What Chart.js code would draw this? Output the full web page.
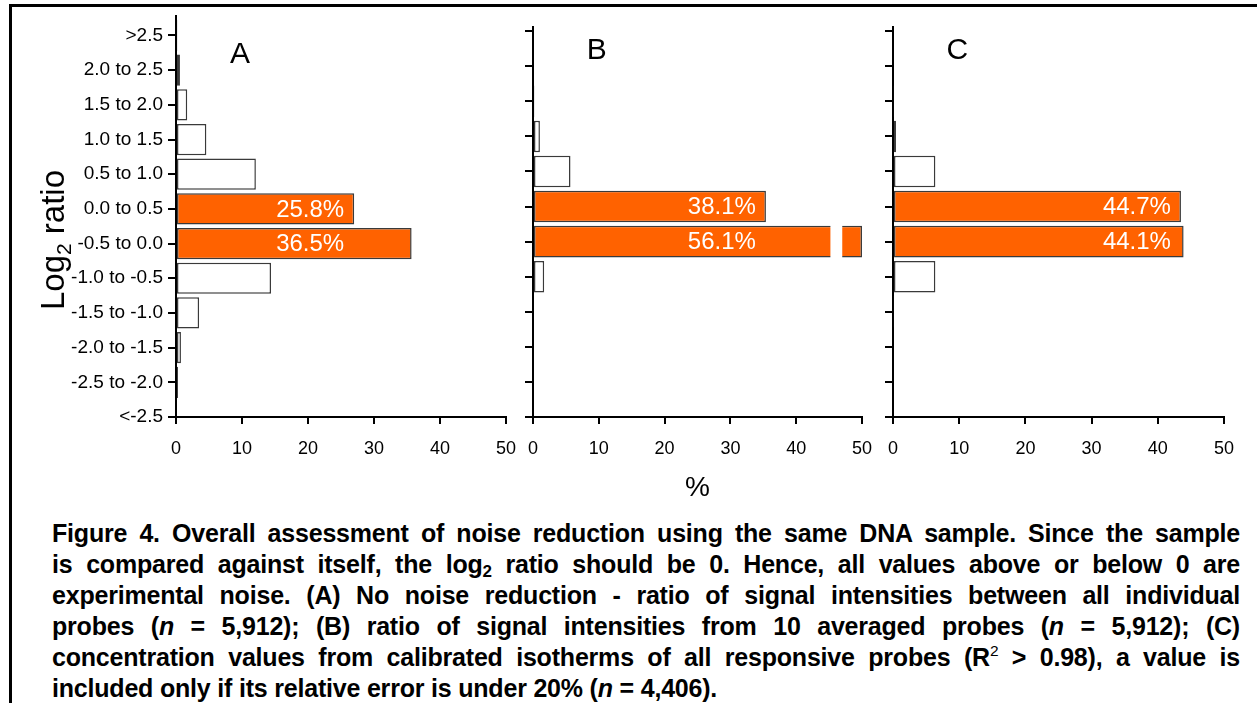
<!DOCTYPE html>
<html>
<head>
<meta charset="utf-8">
<script src="https://cdn.jsdelivr.net/npm/chart.js@4.4.0/dist/chart.umd.min.js"></script>
<style>
  body { margin:0; background:#fff; width:1257px; height:703px; overflow:hidden; position:relative;
         font-family:'Liberation Sans', Arial, sans-serif; }
  #frame { position:absolute; left:9px; top:4px; right:-10px; bottom:-10px;
           border-top:3px solid #000; border-left:3px solid #000; }
  canvas { position:absolute; top:0; }
  #caption { position:absolute; left:52px; top:518px; width:1188px; font-weight:bold;
             font-size:25px; letter-spacing:-0.2px; line-height:31px; color:#000; }
  #caption div { text-align:justify; text-align-last:justify; white-space:nowrap; }
  #caption div.last { text-align-last:left; }
  #caption sub { font-size:0.68em; line-height:0; vertical-align:-0.22em; }
  #caption sup { font-size:0.62em; line-height:0; vertical-align:0.65em; font-weight:normal; }
</style>
</head>
<body>
<div id="frame"></div>
<canvas id="chartA" width="530" height="505" style="left:0px"></canvas>
<canvas id="chartB" width="373" height="505" style="left:513px"></canvas>
<canvas id="chartC" width="375" height="505" style="left:873px"></canvas>
<div id="caption">
  <div>Figure 4. Overall assessment of noise reduction using the same DNA sample. Since the sample</div>
  <div>is compared against itself, the log<sub>2</sub> ratio should be 0. Hence, all values above or below 0 are</div>
  <div>experimental noise. (A) No noise reduction - ratio of signal intensities between all individual</div>
  <div>probes (<i>n</i> = 5,912); (B) ratio of signal intensities from 10 averaged probes (<i>n</i> = 5,912); (C)</div>
  <div>concentration values from calibrated isotherms of all responsive probes (R<sup>2</sup> &gt; 0.98), a value is</div>
  <div class="last">included only if its relative error is under 20% (<i>n</i> = 4,406).</div>
</div>
<script>
// log2 ratio bins, top to bottom
const categories = ['>2.5', '2.0 to 2.5', '1.5 to 2.0', '1.0 to 1.5', '0.5 to 1.0', '0.0 to 0.5',
  '-0.5 to 0.0', '-1.0 to -0.5', '-1.5 to -1.0', '-2.0 to -1.5', '-2.5 to -2.0', '<-2.5'];
const xTickValues = [0, 10, 20, 30, 40, 50];

// % of probes per bin (bar lengths as drawn)
const panelA = [0.2, 0.6, 1.7, 4.6, 12.1, 27.0, 35.7, 14.4, 3.5, 0.75, 0.3, 0];
const panelB = [0, 0, 0.2, 1.05, 5.7, 35.4, 50, 1.7, 0, 0, 0, 0];
const panelC = [0, 0, 0.1, 0.45, 6.4, 43.5, 43.9, 6.4, 0.1, 0, 0, 0];

// labels printed on the central bins
const pctA = [null, null, null, null, null, '25.8%', '36.5%', null, null, null, null, null];
const pctB = [null, null, null, null, null, '38.1%', '56.1%', null, null, null, null, null];
const pctC = [null, null, null, null, null, '44.7%', '44.1%', null, null, null, null, null];

const FONT = "'Liberation Sans', Arial, sans-serif";
const orange = '#ff6200';

Chart.defaults.font.family = FONT;
Chart.defaults.color = '#000';

const extras = {
  id: 'extras',
  afterDraw(chart, args, o) {
    const ctx = chart.ctx, xs = chart.scales.x, ys = chart.scales.y;
    const meta = chart.getDatasetMeta(0);
    ctx.save();
    // tick marks under the x axis
    ctx.strokeStyle = '#000';
    ctx.lineWidth = 2;
    xs.ticks.forEach(t => {
      const px = Math.round(xs.getPixelForValue(t.value));
      ctx.beginPath();
      ctx.moveTo(px, xs.top);
      ctx.lineTo(px, xs.top + 7);
      ctx.stroke();
    });
    if (o.breakAt) {
      const bar = meta.data[o.breakAt.index];
      const x1 = xs.getPixelForValue(o.breakAt.from), x2 = xs.getPixelForValue(o.breakAt.to);
      ctx.fillStyle = '#fff';
      ctx.fillRect(x1, bar.y - bar.height / 2 - 2, x2 - x1, bar.height + 4);
    }
    const idx = o.pcts.map((p, i) => p ? i : -1).filter(i => i >= 0);
    const minVal = Math.min(...idx.map(i => o.values[i]));
    const xr = xs.getPixelForValue(minVal) - 10;
    ctx.font = '24px ' + FONT;
    ctx.fillStyle = '#fff';
    ctx.textAlign = 'right';
    ctx.textBaseline = 'middle';
    idx.forEach(i => ctx.fillText(o.pcts[i], xr, ys.getPixelForValue(i) + 1));

    ctx.font = '30px ' + FONT;
    ctx.fillStyle = '#000';
    ctx.textAlign = 'center';
    ctx.fillText(o.letter, xs.getPixelForValue(9.7), ys.getPixelForValue(0.55));

    if (o.yTitle) {
      ctx.translate(o.yTitle.x, o.yTitle.y);
      ctx.rotate(-Math.PI / 2);
      const big = '33px ' + FONT, small = '21px ' + FONT;
      ctx.font = big;
      const w1 = ctx.measureText('Log').width, w3 = ctx.measureText(' ratio').width;
      ctx.font = small;
      const w2 = ctx.measureText('2').width;
      let x = -(w1 + w2 + w3) / 2;
      ctx.textAlign = 'left';
      ctx.textBaseline = 'alphabetic';
      ctx.font = big; ctx.fillText('Log', x, 0); x += w1;
      ctx.font = small; ctx.fillText('2', x, 7); x += w2;
      ctx.font = big; ctx.fillText(' ratio', x, 0);
    }
    ctx.restore();
  }
};

function makeChart(id, values, pcts, letter, opt) {
  const ctx = document.getElementById(id).getContext('2d');
  return new Chart(ctx, {
    type: 'bar',
    data: {
      datasets: [{
        data: values.map((v, i) => ({ x: v, y: i })),
        backgroundColor: values.map((v, i) => pcts[i] ? orange : '#fff'),
        borderColor: '#3a3a3a',
        borderWidth: 1.5,
        borderSkipped: false,
        barPercentage: 0.9,
        categoryPercentage: 1
      }]
    },
    options: {
      indexAxis: 'y',
      responsive: false,
      animation: false,
      devicePixelRatio: 1,
      layout: { padding: { top: opt.top, right: 21, left: 0, bottom: 0 } },
      plugins: {
        legend: { display: false },
        tooltip: { enabled: false },
        extras: { values: values, pcts: pcts, letter: letter, yTitle: opt.yTitle, breakAt: opt.breakAt }
      },
      scales: {
        x: {
          type: 'linear', min: 0, max: 50, offset: false,
          afterBuildTicks: s => { s.ticks = xTickValues.map(v => ({ value: v })); },
          afterFit: s => { s.height = 88; },
          grid: { display: true, offset: false, drawOnChartArea: false, drawTicks: true, tickLength: 7,
                  color: '#000', lineWidth: 2 },
          border: { display: true, color: '#000', width: 2 },
          ticks: { font: { size: 18 }, padding: 14, maxRotation: 0, color: '#000' },
          title: { display: !!opt.pctTitle, text: '%', font: { size: 28 }, color: '#000', padding: 0 }
        },
        y: {
          type: 'linear', reverse: true, offset: false, min: opt.yMin, max: categories.length - 1,
          afterBuildTicks: s => { s.ticks = categories.map((c, i) => ({ value: i })); },
          afterFit: s => { s.width = opt.yWidth; },
          grid: { display: true, offset: false, drawOnChartArea: false, drawTicks: true, tickLength: 8,
                  color: '#000', lineWidth: 2 },
          border: { display: true, color: '#000', width: 2 },
          ticks: { display: !!opt.yLabels, font: { size: 19 }, padding: 5, color: '#000',
                   callback: v => categories[v] }
        }
      }
    },
    plugins: [extras]
  });
}

makeChart('chartA', panelA, pctA, 'A',
  { top: 12, yMin: -0.55, yWidth: 176, yLabels: true, yTitle: { x: 64, y: 240 } });
makeChart('chartB', panelB, pctB, 'B',
  { top: 27, yMin: -0.12, yWidth: 20, pctTitle: true, breakAt: { index: 6, from: 45.2, to: 47.0 } });
makeChart('chartC', panelC, pctC, 'C',
  { top: 27, yMin: -0.12, yWidth: 20 });
</script>
</body>
</html>
